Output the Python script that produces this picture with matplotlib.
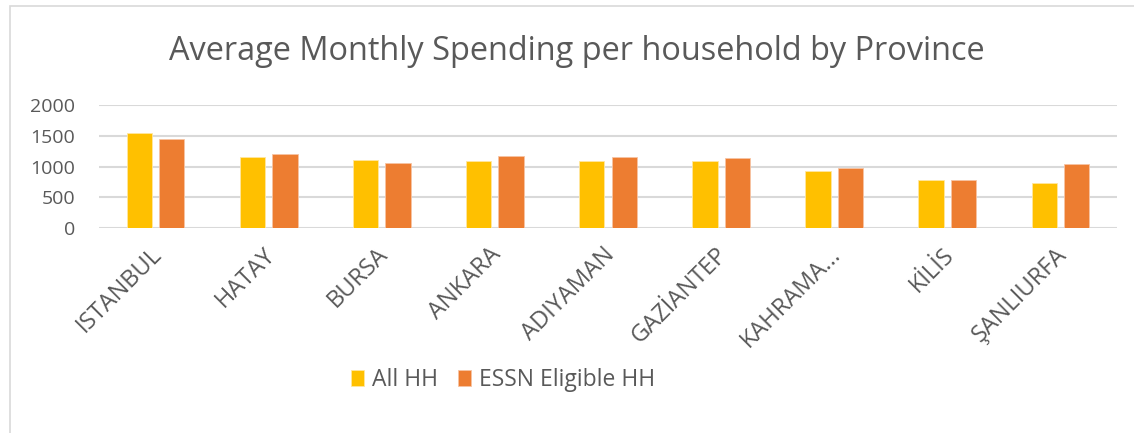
import numpy as np
import matplotlib
matplotlib.use('Agg')
from matplotlib import pyplot as plt
from matplotlib.patches import Rectangle

provinces = ["ISTANBUL", "HATAY", "BURSA", "ANKARA", "ADIYAMAN",
             "GAZİANTEP", "KAHRAMA...", "KİLİS", "ŞANLIURFA"]
all_hh = [1550, 1150, 1100, 1090, 1085, 1085, 920, 775, 725]
essn_hh = [1445, 1210, 1050, 1170, 1160, 1135, 970, 780, 1040]
series_names = ["All HH", "ESSN Eligible HH"]

yellow = "#FFC000"
orange = "#ED7D31"
grey_text = "#595959"
grid_col = "#D9D9D9"

plt.rcParams['font.family'] = ['Open Sans', 'DejaVu Sans']

W, H = 1134, 433
fig = plt.figure(figsize=(W / 100, H / 100), dpi=100)

# chart area border (cropped at right and bottom)
fig.patches.append(Rectangle((10 / W, -0.1), 1.2, 1 - 6 / H + 0.1,
                             transform=fig.transFigure, fill=False,
                             edgecolor=grid_col, linewidth=1.2))

ax = fig.add_axes([99 / W, 1 - 227.7 / H, (1117 - 99) / W, (227.7 - 105.3) / H])

x = np.arange(len(provinces))
w = 0.224
off = 0.143
ax.bar(x - off, all_hh, w, color=yellow, edgecolor="#FFE7A0", linewidth=0.6,
       label=series_names[0], zorder=3)
ax.bar(x + off, essn_hh, w, color=orange, edgecolor="#F7C4A4", linewidth=0.6,
       label=series_names[1], zorder=3)

ax.set_xlim(-0.5, len(provinces) - 0.5)
ax.set_ylim(0, 2000)
ax.set_yticks([0, 500, 1000, 1500, 2000])
ax.yaxis.grid(True, color=grid_col, linewidth=1.5, zorder=0)
ax.set_axisbelow(True)
for s in ax.spines.values():
    s.set_visible(False)

ax.tick_params(axis='y', length=0, pad=17, labelsize=14, labelcolor=grey_text)
ax.tick_params(axis='x', length=0, pad=17, labelsize=17, labelcolor=grey_text)
ax.set_xticks(x)
ax.set_xticklabels(provinces, rotation=45, ha='right', rotation_mode='anchor',
                   va='center')
for lbl in ax.get_xticklabels():
    lbl.set_transform(lbl.get_transform() +
                      matplotlib.transforms.ScaledTranslation(0.03, 0, fig.dpi_scale_trans))

fig.text(577 / W, 1 - 60 / H, "Average Monthly Spending per household by Province",
         ha='center', va='baseline', fontsize=23.4, color=grey_text)

leg = fig.legend(loc='center', bbox_to_anchor=(503 / W, 1 - 380 / H),
                 ncol=2, frameon=False, fontsize=16.5, labelcolor=grey_text,
                 handlelength=0.55, handleheight=0.75, handletextpad=0.35,
                 columnspacing=0.9)

fig.savefig("out.png", dpi=100)
